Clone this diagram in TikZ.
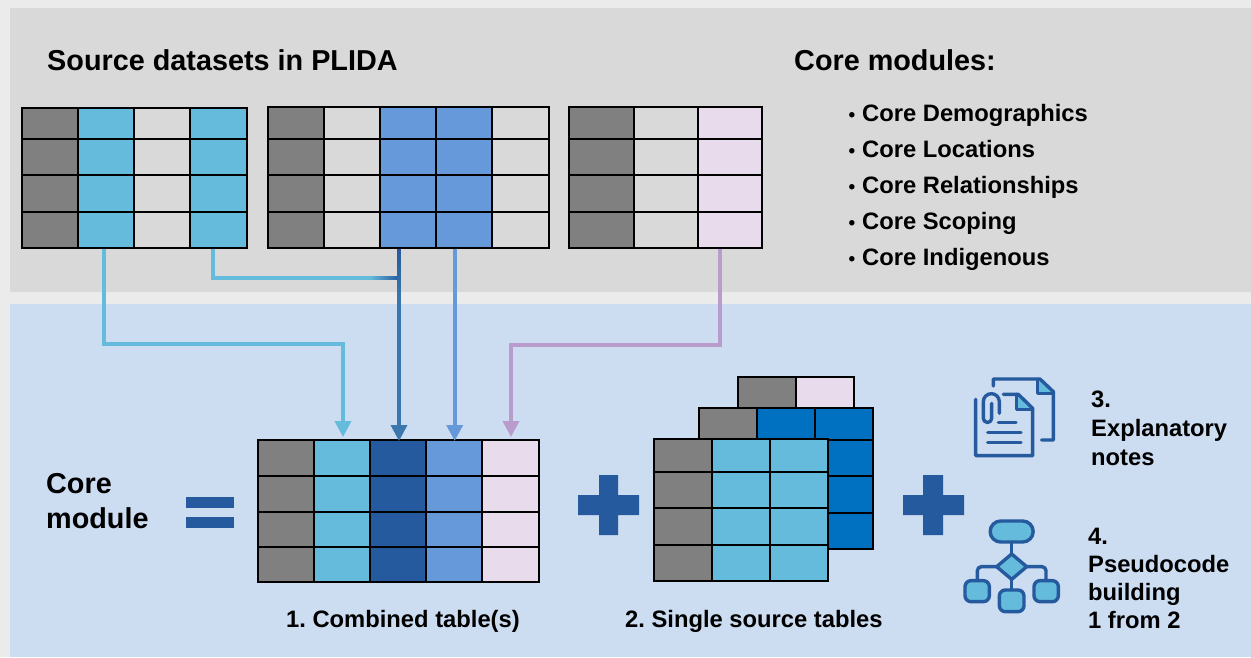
\documentclass[tikz,border=0pt]{standalone}
\usepackage{fontspec}
\setmainfont{Liberation Sans}
\usetikzlibrary{arrows.meta}
\definecolor{bgc}{HTML}{EBEBEB}
\definecolor{panelgray}{HTML}{D9D9D9}
\definecolor{panelblue}{HTML}{CCDCF1}
\definecolor{gr}{HTML}{808080}
\definecolor{lg}{HTML}{D9D9D9}
\definecolor{cy}{HTML}{65BBDB}
\definecolor{bl}{HTML}{6699DA}
\definecolor{dk}{HTML}{265A9E}
\definecolor{pl}{HTML}{E8DCEC}
\definecolor{sb}{HTML}{0070C0}
\definecolor{pu}{HTML}{B99CCC}
\definecolor{mid}{HTML}{3B77AF}
\frenchspacing
\tikzset{
  cell/.style={draw=black,line width=2.1pt,inner sep=0pt,outer sep=0pt},
  conn/.style={line width=3.6pt,-{Triangle[width=16pt,length=16pt]}},
  plain/.style={line width=3.6pt},
  ttl/.style={font=\bfseries\fontsize{28.8}{32}\selectfont,anchor=base west,inner sep=0pt},
  lab/.style={font=\bfseries\fontsize{23.75}{28}\selectfont,anchor=base west,inner sep=0pt},
  bul/.style={font=\bfseries\fontsize{19}{22}\selectfont,anchor=base west,inner sep=0pt},
  icon/.style={draw=dk,line width=3.4pt,line cap=round,line join=round}
}
\newcommand\tbl[3]{%
  \foreach \xa/\xb/\c/\i in {#2}{%
    \foreach \ya/\yb/\j in {#3}{%
      \node[cell,fill=\c,minimum width={(\xb-\xa)*1pt},minimum height={(\yb-\ya)*1pt}]
        (#1c\i r\j) at ({(\xa+\xb)/2},{(\ya+\yb)/2}) {};
    }}}
\begin{document}
\begin{tikzpicture}[x=1pt,y=-1pt]
\useasboundingbox (0,0) rectangle (1251,657);
\fill[bgc] (0,0) rectangle (1251,657);
\fill[panelgray] (10,8) rectangle (1251,292);
\fill[panelblue] (10,304) rectangle (1251,657);

% titles
\node[ttl] (title1) at (47,70.5) {Source datasets in PLIDA};
\node[ttl] (title2) at (794,70.5) {Core modules:};
\foreach \y/\t/\n in {121/Core Demographics/a,157/Core Locations/b,193/Core Relationships/c,229/Core Scoping/d,265/Core Indigenous/e}{
  \node[bul] (bul\n) at (848.5,\y) {•};
  \node[lab] (item\n) at (862,\y) {\t};
}

% source tables
\tbl{s}{22/78/gr/1,78/134/cy/2,134/190/lg/3,190/247/cy/4}{108/139/1,139/175/2,175/212/3,212/248/4}
\tbl{m}{268/324/gr/1,324/380/lg/2,380/436/bl/3,436/492/bl/4,492/549/lg/5}{107/139/1,139/175/2,175/212/3,212/248/4}
\tbl{p}{569/634/gr/1,634/698/lg/2,698/762/pl/3}{107/139/1,139/175/2,175/212/3,212/248/4}

% combined table
\tbl{k}{258/314/gr/1,314/370/cy/2,370/426/dk/3,426/482/bl/4,482/539/pl/5}{440/476/1,476/512/2,512/547/3,547/582/4}

% stacked tables
\tbl{z}{738/796/gr/1,796/854/pl/2}{377/408/1}
\tbl{y}{699/757/gr/1,757/815/sb/2,815/873/sb/3}{408/440/1}
\tbl{y}{815/873/sb/3}{440/476/2,476/513/3,513/549/4}
\tbl{x}{654/712/gr/1,712/770/cy/2,770/828/cy/3}{439/472/1,472/508/2,508/545/3,545/581/4}

% connectors
\coordinate (c1a) at (104,344);
\coordinate (c1b) at (343,344);
\coordinate (c2a) at (213,278);
\coordinate (c2b) at (370,278);
\coordinate (c5a) at (720,345);
\coordinate (c5b) at (511,345);
\draw[conn,cy] (104,249) -- (c1a) -- (c1b) -- (343,437);
\draw[plain,cy] (213,249) -- (c2a) -- (c2b);
\draw[conn,mid] (399,249) -- (399,441);
\shade[left color=cy,right color=dk] (370,276.2) rectangle (399,279.8);
\shade[top color=dk,bottom color=mid] (397.2,249) rectangle (400.8,300);
\draw[conn,bl] (454.7,249) -- (454.7,441);
\draw[conn,pu] (720,249) -- (c5a) -- (c5b) -- (511,437);

% equals and pluses
\fill[dk] (186,497) rectangle (234,508);
\fill[dk] (186,517) rectangle (234,528);
\fill[dk] (578,495) rectangle (639,515) (599,475) rectangle (618,535);
\fill[dk] (903,495) rectangle (964,515) (923,475) rectangle (943,535);

% labels
\node[ttl] (core1) at (46,493) {Core};
\node[ttl] (core2) at (46,528) {module};
\node[lab] (cap1) at (286,627) {1. Combined table(s)};
\node[lab] (cap2) at (625,627) {2. Single source tables};
\node[lab] (n3a) at (1091,407) {3.};
\node[lab] (n3b) at (1091,436) {Explanatory};
\node[lab] (n3c) at (1091,465) {notes};
\node[lab] (n4a) at (1088,544) {4.};
\node[lab] (n4b) at (1088,572) {Pseudocode};
\node[lab] (n4c) at (1088,600) {building};
\node[lab] (n4d) at (1088,628) {1 from 2};

% document icon
\begin{scope}[shift={(940,360)},x=0.33333pt,y=-0.33333pt]
  \fill[cy] (297,60) -- (297,100) -- (340,100) -- cycle;
  \fill[cy] (233,103) -- (233,148) -- (278,148) -- cycle;
  \draw[icon] (160,78) -- (160,57) -- (300,57) -- (340,95) -- (340,240) -- (305,240);
  \draw[icon] (293,60) -- (293,100) -- (340,100);
  \draw[icon] (190,103) -- (235,103) -- (278,145) -- (278,287) -- (107,287) -- (107,118);
  \draw[icon] (230,103) -- (230,148) -- (278,148);
  \draw[icon] (178,160) -- (178,125) arc[start angle=0,end angle=-180,radius=24] -- (130,175)
     arc[start angle=180,end angle=0,radius=12.5] -- (155,130);
  \draw[icon] (175,187) -- (228,187) (143,218) -- (243,218) (143,248) -- (243,248);
  % flowchart icon
  \draw[icon,fill=cy] (182,483) -- (248,483) arc[start angle=-90,end angle=90,radius=31.5] -- (182,546) arc[start angle=90,end angle=270,radius=31.5] -- cycle;
  \draw[icon,fill=cy] (215,582) -- (260,620) -- (215,658) -- (170,620) -- cycle;
  \draw[icon] (215,546) -- (215,582) (215,658) -- (215,690);
  \draw[icon,rounded corners=4pt] (170,620) -- (112,620) -- (112,662);
  \draw[icon,rounded corners=4pt] (260,620) -- (318,620) -- (318,662);
  \draw[icon,fill=cy,rounded corners=6pt] (75,662) rectangle (148,725);
  \draw[icon,fill=cy,rounded corners=6pt] (178,690) rectangle (252,755);
  \draw[icon,fill=cy,rounded corners=6pt] (282,662) rectangle (355,725);
\end{scope}
\end{tikzpicture}
\end{document}
